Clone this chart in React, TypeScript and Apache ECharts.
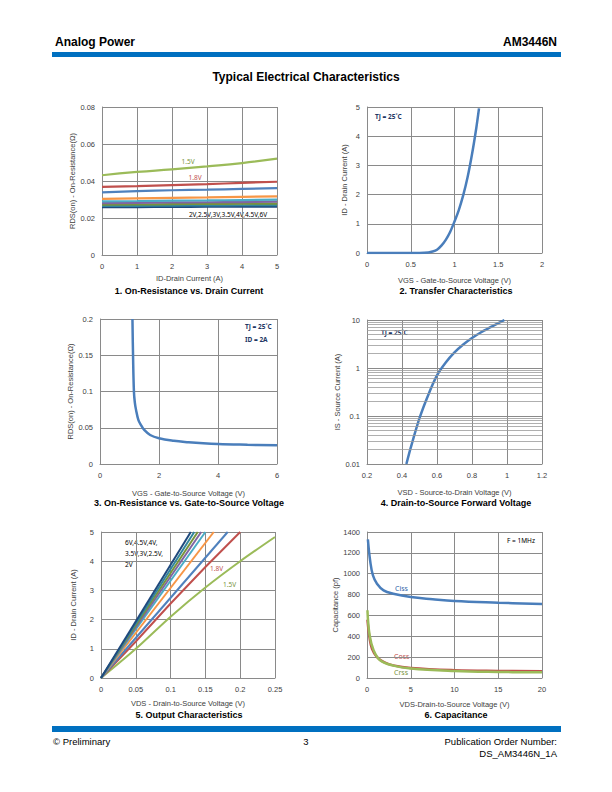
import React, { useEffect, useRef } from "react";
import * as echarts from "echarts";

// ---------- Chart 1: On-Resistance vs Drain Current ----------
const c1X = [0, 1, 2, 3, 4, 5];
const c1Names = ["1.5V", "1.8V", "2V", "2.5V", "3V", "3.5V", "4V", "4.5V", "6V"];
const c1_15 = [0.0431, 0.0449, 0.0463, 0.0479, 0.0497, 0.0521];
const c1_18 = [0.0368, 0.0372, 0.0378, 0.0383, 0.039, 0.0396];
const c1_2 = [0.0338, 0.0345, 0.035, 0.0353, 0.0357, 0.0361];
const c1_25 = [0.0303, 0.0306, 0.0309, 0.0311, 0.0314, 0.0317];
const c1_3 = [0.029, 0.0292, 0.0294, 0.0295, 0.0297, 0.0299];
const c1_35 = [0.028, 0.0282, 0.0284, 0.0285, 0.0286, 0.0288];
const c1_4 = [0.0272, 0.0273, 0.0275, 0.0276, 0.0277, 0.0278];
const c1_45 = [0.0265, 0.0266, 0.0267, 0.0268, 0.0269, 0.027];
const c1_6 = [0.0258, 0.0259, 0.026, 0.0261, 0.0262, 0.0262];
const c1Values = [c1_15, c1_18, c1_2, c1_25, c1_3, c1_35, c1_4, c1_45, c1_6];

// ---------- Chart 2: Transfer ----------
const c2X = [0, 0.5, 0.6, 0.7, 0.75, 0.8, 0.85, 0.9, 0.95, 1.0, 1.05, 1.1, 1.15, 1.2, 1.25, 1.28];
const c2Y = [0, 0, 0.002, 0.02, 0.05, 0.11, 0.25, 0.45, 0.72, 1.08, 1.48, 1.98, 2.6, 3.38, 4.3, 4.95];

// ---------- Chart 3: RDS(on) vs VGS ----------
const c3X = [1.1, 1.12, 1.15, 1.18, 1.22, 1.3, 1.4, 1.5, 1.7, 2, 2.5, 3, 3.5, 4, 5, 6];
const c3Y = [0.2, 0.15, 0.1, 0.085, 0.075, 0.061, 0.053, 0.047, 0.04, 0.0355, 0.032, 0.03, 0.0285, 0.0275, 0.0265, 0.0257];

// ---------- Chart 4: Forward voltage ----------
const c4X = [0.425, 0.45, 0.5, 0.55, 0.6, 0.65, 0.7, 0.75, 0.8, 0.85, 0.9, 0.95, 0.985];
const c4Y = [0.01, 0.022, 0.09, 0.275, 0.7, 1.3, 2.11, 3.09, 4.22, 5.5, 6.92, 8.6, 10];
const c4Minor = [0.02, 0.03, 0.04, 0.05, 0.06, 0.07, 0.08, 0.09, 0.2, 0.3, 0.4, 0.5, 0.6, 0.7, 0.8, 0.9, 2, 3, 4, 5, 6, 7, 8, 9];

// ---------- Chart 5: Output characteristics ----------
const c5Names = ["1.5V", "1.8V", "2V", "2.5V", "3V", "3.5V", "4V", "4.5V", "6V"];
const c5_15 = [[0, 0], [0.05, 1.0], [0.1, 2.1], [0.15, 3.1], [0.2, 4.0], [0.25, 4.83]];
const c5_18 = [[0, 0], [0.05, 1.25], [0.1, 2.55], [0.15, 3.8], [0.2, 5]];
const c5_2 = [[0, 0], [0.182, 5]];
const c5_25 = [[0, 0], [0.162, 5]];
const c5_3 = [[0, 0], [0.15, 5]];
const c5_35 = [[0, 0], [0.144, 5]];
const c5_4 = [[0, 0], [0.139, 5]];
const c5_45 = [[0, 0], [0.134, 5]];
const c5_6 = [[0, 0], [0.129, 5]];
const c5Values = [c5_15, c5_18, c5_2, c5_25, c5_3, c5_35, c5_4, c5_45, c5_6];

const lineColors = ["#9BBB59", "#C0504D", "#4F81BD", "#F79646", "#4BACC6", "#8064A2", "#77933C", "#31859C", "#1F497D"];

// ---------- Chart 6: Capacitance ----------
const cissX = [0.1, 0.38, 0.68, 1.14, 1.9, 3, 5, 7.5, 10, 15, 20];
const cissY = [1330, 1112, 984, 904, 840, 808, 776, 755, 738, 722, 709];
const cossX = [0.05, 0.3, 0.57, 1.14, 2, 3, 5, 10, 15, 20];
const cossY = [560, 380, 281, 201, 150, 121, 96, 75, 68, 65];
const crssX = [0.05, 0.3, 0.76, 1.5, 3, 5, 10, 15, 20];
const crssY = [650, 410, 265, 170, 119, 90, 67, 58, 54];

const zip = (xs: number[], ys: number[]) => xs.map((x, i) => [x, ys[i]]);

const FONT = "Liberation Sans";
const GRID_C = "#8a8a8a";
const LABEL_C = "#404040";

function mkAxis(opts: any) {
  return {
    gridIndex: opts.grid,
    type: opts.type || "value",
    min: opts.min,
    max: opts.max,
    interval: opts.interval,
    logBase: opts.logBase,
    name: opts.name,
    nameLocation: "middle",
    nameGap: opts.nameGap,
    nameTextStyle: { fontFamily: FONT, fontSize: 7.5, color: LABEL_C },
    axisLine: { show: true, lineStyle: { color: GRID_C, width: 1 } },
    axisTick: { show: false },
    axisLabel: {
      fontFamily: FONT,
      fontSize: 7.5,
      color: LABEL_C,
      margin: 7,
      showMinLabel: true,
      showMaxLabel: true,
      formatter: (v: number) => String(parseFloat(Number(v).toPrecision(10))),
    },
    splitLine: { show: true, lineStyle: { color: GRID_C, width: 1 } },
  };
}

function txt(x: number, y: number, text: string, o: any = {}) {
  return {
    type: "text",
    x,
    y,
    silent: true,
    style: {
      text,
      fill: o.fill || "#000",
      fontFamily: o.family || FONT,
      fontSize: o.size || 9,
      fontWeight: o.weight || "normal",
      align: o.align || "left",
      textAlign: o.align || "left",
      verticalAlign: "middle",
      textVerticalAlign: "middle",
    },
  };
}

const ANNO = "Noto Sans";
const NAVY = "#1F3864";

export default function App() {
  const ref = useRef<HTMLDivElement>(null);
  useEffect(() => {
    if (!ref.current) return;
    const chart = echarts.init(ref.current, undefined, { renderer: "svg" });

    const grids = [
      { left: 102, top: 107, width: 175, height: 148 },
      { left: 367, top: 107, width: 175, height: 146 },
      { left: 100, top: 319, width: 177, height: 145 },
      { left: 367, top: 320, width: 175, height: 144 },
      { left: 101, top: 532, width: 174, height: 146 },
      { left: 367, top: 532, width: 175, height: 146 },
    ];

    const xAxis = [
      mkAxis({ grid: 0, min: 0, max: 5, interval: 1, name: "ID-Drain Current (A)", nameGap: 19 }),
      mkAxis({ grid: 1, min: 0, max: 2, interval: 0.5, name: "VGS - Gate-to-Source Voltage (V)", nameGap: 23 }),
      mkAxis({ grid: 2, min: 0, max: 6, interval: 2, name: "VGS - Gate-to-Source Voltage (V)", nameGap: 25 }),
      mkAxis({ grid: 3, min: 0.2, max: 1.2, interval: 0.2, name: "VSD - Source-to-Drain Voltage (V)", nameGap: 24 }),
      mkAxis({ grid: 4, min: 0, max: 0.25, interval: 0.05, name: "VDS - Drain-to-Source Voltage (V)", nameGap: 21 }),
      mkAxis({ grid: 5, min: 0, max: 20, interval: 5, name: "VDS-Drain-to-Source Voltage (V)", nameGap: 22 }),
    ];
    const yAxis = [
      mkAxis({ grid: 0, min: 0, max: 0.08, interval: 0.02, name: "RDS(on) - On-Resistance(Ω)", nameGap: 26 }),
      mkAxis({ grid: 1, min: 0, max: 5, interval: 1, name: "ID - Drain Current (A)", nameGap: 19 }),
      mkAxis({ grid: 2, min: 0, max: 0.2, interval: 0.05, name: "RDS(on) - On-Resistance(Ω)", nameGap: 25 }),
      mkAxis({ grid: 3, type: "log", logBase: 10, min: 0.01, max: 10, name: "IS - Source Current (A)", nameGap: 21 }),
      mkAxis({ grid: 4, min: 0, max: 5, interval: 1, name: "ID - Drain Current (A)", nameGap: 24 }),
      mkAxis({ grid: 5, min: 0, max: 1400, interval: 200, name: "Capacitance (pf)", nameGap: 28 }),
    ];

    const series: any[] = [];
    c1Values.forEach((vals, i) => {
      series.push({
        type: "line",
        name: "c1 " + c1Names[i],
        xAxisIndex: 0,
        yAxisIndex: 0,
        data: zip(c1X, vals),
        showSymbol: false,
        smooth: true,
        lineStyle: { color: lineColors[i], width: 2.2 },
        z: 3 + (c1Values.length - i),
      });
    });
    series.push({
      type: "line",
      xAxisIndex: 1,
      yAxisIndex: 1,
      data: zip(c2X, c2Y),
      showSymbol: false,
      smooth: 0.3,
      lineStyle: { color: "#4A7EBB", width: 2.5 },
    });
    series.push({
      type: "line",
      xAxisIndex: 2,
      yAxisIndex: 2,
      data: zip(c3X, c3Y),
      showSymbol: false,
      smooth: 0.4,
      lineStyle: { color: "#4A7EBB", width: 2.5 },
    });
    series.push({
      type: "line",
      xAxisIndex: 3,
      yAxisIndex: 3,
      data: [],
      showSymbol: false,
      z: 1,
      markLine: {
        silent: true,
        symbol: "none",
        label: { show: false },
        lineStyle: { color: "#9a9a9a", width: 0.8, type: "solid" },
        data: c4Minor.map((v) => ({ yAxis: v })),
      },
    });
    series.push({
      type: "line",
      xAxisIndex: 3,
      yAxisIndex: 3,
      data: zip(c4X, c4Y),
      showSymbol: false,
      smooth: 0.3,
      lineStyle: { color: "#4A7EBB", width: 2.5 },
      z: 4,
    });
    c5Values.forEach((vals, i) => {
      series.push({
        type: "line",
        name: "c5 " + c5Names[i],
        xAxisIndex: 4,
        yAxisIndex: 4,
        data: vals,
        showSymbol: false,
        smooth: i === 0 ? 0.3 : false,
        lineStyle: { color: lineColors[i], width: 2 },
      });
    });
    series.push({
      type: "line",
      xAxisIndex: 5,
      yAxisIndex: 5,
      data: zip(cissX, cissY),
      showSymbol: false,
      smooth: 0.4,
      lineStyle: { color: "#4A7EBB", width: 2.5 },
    });
    series.push({
      type: "line",
      xAxisIndex: 5,
      yAxisIndex: 5,
      data: zip(cossX, cossY),
      showSymbol: false,
      smooth: 0.4,
      lineStyle: { color: "#C0504D", width: 2.5 },
    });
    series.push({
      type: "line",
      xAxisIndex: 5,
      yAxisIndex: 5,
      data: zip(crssX, crssY),
      showSymbol: false,
      smooth: 0.4,
      lineStyle: { color: "#9BBB59", width: 2.5 },
    });

    const graphic: any[] = [
      // header
      txt(55, 42, "Analog Power", { size: 12, weight: "bold" }),
      txt(557, 42, "AM3446N", { size: 12, weight: "bold", align: "right" }),
      { type: "rect", silent: true, shape: { x: 52, y: 52, width: 509, height: 5 }, style: { fill: "#0070C0" } },
      txt(306, 77, "Typical Electrical Characteristics", { size: 12, weight: "bold", align: "center" }),
      // captions
      txt(189, 291, "1. On-Resistance vs. Drain Current", { weight: "bold", align: "center" }),
      txt(456, 291, "2. Transfer Characteristics", { weight: "bold", align: "center" }),
      txt(189, 503, "3. On-Resistance vs. Gate-to-Source Voltage", { weight: "bold", align: "center" }),
      txt(456, 503, "4. Drain-to-Source Forward Voltage", { weight: "bold", align: "center" }),
      txt(189, 715, "5. Output Characteristics", { weight: "bold", align: "center" }),
      txt(456, 715, "6. Capacitance", { weight: "bold", align: "center" }),
      // chart 1 annotations
      txt(188, 161, "1.5V", { family: ANNO, size: 6.5, fill: "#77933C", align: "center" }),
      txt(195, 177, "1.8V", { family: ANNO, size: 6.5, fill: "#C0504D", align: "center" }),
      txt(228, 214, "2V,2.5V,3V,3.5V,4V,4.5V,6V", { family: ANNO, size: 6.5, fill: "#000", align: "center" }),
      // chart 2
      txt(375, 116, "TJ = 25˚C", { family: ANNO, size: 6.5, fill: NAVY, weight: "bold" }),
      // chart 3
      txt(245, 326, "TJ = 25˚C", { family: ANNO, size: 6.5, fill: NAVY, weight: "bold" }),
      txt(245, 339, "ID = 2A", { family: ANNO, size: 6.5, fill: NAVY, weight: "bold" }),
      // chart 4
      txt(381, 332, "TJ = 25˚C", { family: ANNO, size: 6.5, fill: NAVY, weight: "bold" }),
      // chart 5
      txt(125, 542, "6V,4.5V,4V,", { family: ANNO, size: 6.5, fill: "#000" }),
      txt(125, 553, "3.5V,3V,2.5V,", { family: ANNO, size: 6.5, fill: "#000" }),
      txt(125, 564, "2V", { family: ANNO, size: 6.5, fill: "#000" }),
      txt(210, 568, "1.8V", { family: ANNO, size: 6.5, fill: "#C0504D" }),
      txt(223, 584, "1.5V", { family: ANNO, size: 6.5, fill: "#77933C" }),
      // chart 6
      txt(507, 540, "F = 1MHz", { family: ANNO, size: 6.5, fill: "#000" }),
      txt(395, 588, "Ciss", { family: ANNO, size: 7, fill: "#2E63A8" }),
      txt(394, 656, "Coss", { family: ANNO, size: 7, fill: "#C0504D" }),
      txt(394, 672, "Crss", { family: ANNO, size: 7, fill: "#77933C" }),
      // footer
      { type: "rect", silent: true, shape: { x: 52, y: 726, width: 509, height: 6 }, style: { fill: "#0070C0" } },
      txt(53, 741, "© Preliminary", { size: 9.5 }),
      txt(306, 741, "3", { size: 9.5, align: "center" }),
      txt(557, 741, "Publication Order Number:", { size: 9.5, align: "right" }),
      txt(557, 753, "DS_AM3446N_1A", { size: 9.5, align: "right" }),
    ];

    chart.setOption({
      animation: false,
      backgroundColor: "#ffffff",
      grid: grids,
      xAxis,
      yAxis,
      series,
      graphic,
    });
    return () => chart.dispose();
  }, []);
  return (
    <div
      ref={ref}
      style={{ position: "fixed", left: 0, top: 0, width: 612, height: 792, background: "#fff" }}
    />
  );
}
